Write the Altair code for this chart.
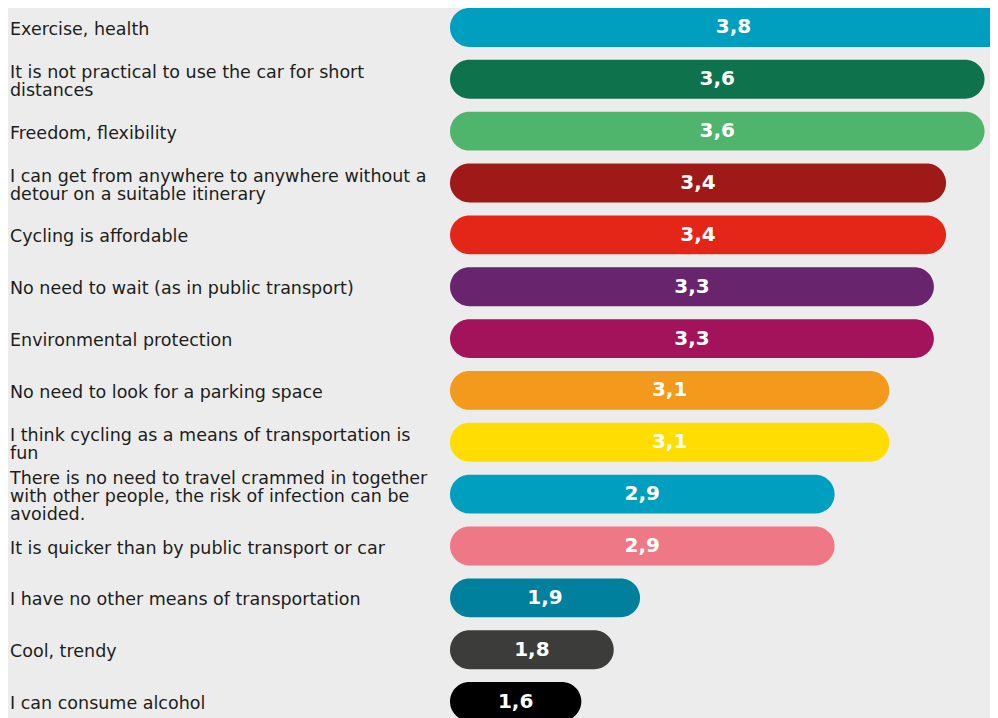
import altair as alt
import pandas as pd

# Categories ("|" marks the line breaks used in the reference)
categories = [
    "Exercise, health",
    "It is not practical to use the car for short|distances",
    "Freedom, flexibility",
    "I can get from anywhere to anywhere without a|detour on a suitable itinerary",
    "Cycling is affordable",
    "No need to wait (as in public transport)",
    "Environmental protection",
    "No need to look for a parking space",
    "I think cycling as a means of transportation is|fun",
    "There is no need to travel crammed in together|with other people, the risk of infection can be|avoided.",
    "It is quicker than by public transport or car",
    "I have no other means of transportation",
    "Cool, trendy",
    "I can consume alcohol",
]

# Values (labels shown are rounded)
values = [3.76, 3.60, 3.60, 3.41, 3.41, 3.35, 3.35, 3.13, 3.13, 2.86, 2.86, 1.90, 1.77, 1.61]
value_labels = ["3,8", "3,6", "3,6", "3,4", "3,4", "3,3", "3,3", "3,1", "3,1", "2,9", "2,9", "1,9", "1,8", "1,6"]

colors = [
    "#009fc0", "#0e724c", "#4fb46c", "#a01919", "#e42618", "#68246c", "#a3135b",
    "#f39a1d", "#ffdd00", "#009fc0", "#ee7886", "#00809c", "#3c3c3b", "#000000",
]

V0 = 0.962
VMAX = 3.627

df = pd.DataFrame({"item": categories, "value": values, "label": value_labels})
df["base"] = V0

y_enc = alt.Y(
    "item:N",
    sort=categories,
    title=None,
    scale=alt.Scale(paddingInner=0.25, paddingOuter=0),
    axis=None,
)
x_scale = alt.Scale(domain=[V0, VMAX], zero=False, nice=False)

base = alt.Chart(df)

bars = base.mark_bar(cornerRadiusEnd=19.5, clip=True).encode(
    y=y_enc,
    x=alt.X("value:Q", scale=x_scale, axis=None),
    x2="base:Q",
    color=alt.Color("item:N", scale=alt.Scale(domain=categories, range=colors), legend=None),
)

values_text = base.transform_calculate(
    mid="(datum.base + datum.value) / 2"
).mark_text(
    color="white", font="DejaVu Sans", fontSize=20, fontWeight="bold",
    baseline="middle", align="center", clip=True,
).encode(
    y=alt.Y("item:N", sort=categories),
    x=alt.X("mid:Q"),
    text="label:N",
)

# half band (bar) height minus half of the extra lines, to centre multi-line labels
cat_text = base.transform_calculate(
    off="22 - (length(split(datum.item, '|')) - 1) * 9"
).mark_text(
    font="DejaVu Sans", fontSize=17.5, color="#1d1d1b", align="left",
    baseline="middle", lineBreak="|", lineHeight=18,
).encode(
    y=alt.Y("item:N", sort=categories),
    yOffset=alt.YOffset("off:Q", scale=None),
    x=alt.value(-440),
    text="item:N",
)

chart = alt.layer(bars, values_text, cat_text).properties(
    width=540,
    height=713,
    padding={"left": 2, "top": 0, "right": 0, "bottom": 0},
    background="#ececec",
).configure_view(stroke=None)

chart.save("out.html", embed_options={"renderer": "svg", "actions": False})
